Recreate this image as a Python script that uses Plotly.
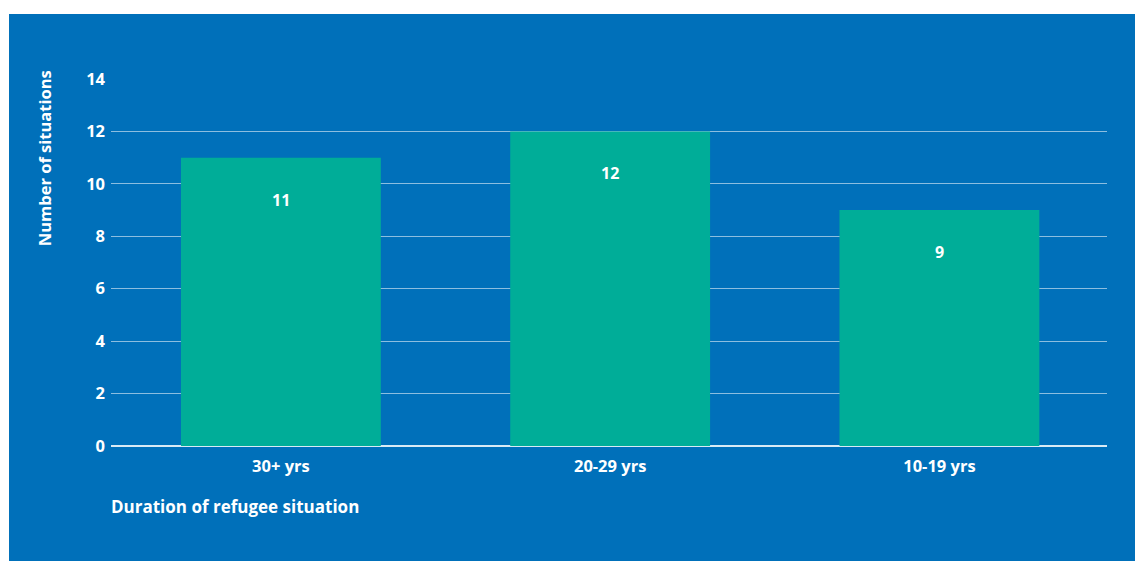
import plotly.graph_objects as go

categories = ["30+ yrs", "20-29 yrs", "10-19 yrs"]
values = [11, 12, 9]
y_ticks = [0, 2, 4, 6, 8, 10, 12, 14]

BLUE = "#0070BA"
GREEN = "#00AD98"
FONT = "Open Sans, Arial, sans-serif"

fig = go.Figure()
fig.add_trace(go.Bar(
    x=categories, y=values, width=0.607,
    marker=dict(color=GREEN, line=dict(width=0)),
    hoverinfo="skip",
))

for c, v in zip(categories, values):
    fig.add_annotation(x=c, y=v, text="%d" % v, showarrow=False,
                       yshift=-42, font=dict(family=FONT, size=16, color="white", weight="bold"))

fig.add_shape(type="rect", xref="paper", yref="paper",
              x0=-0.1024, x1=1.03, y0=-0.32, y1=1.1771,
              fillcolor=BLUE, line=dict(width=0), layer="below")

fig.add_annotation(xref="paper", yref="paper", x=-0.066, y=1.03,
                   xanchor="center", yanchor="top", textangle=-90,
                   text="Number of situations", showarrow=False,
                   font=dict(family=FONT, size=16.5, color="white", weight="bold"))
fig.add_annotation(xref="paper", yref="paper", x=-0.002, y=-0.165,
                   xanchor="left", yanchor="middle",
                   text="Duration of refugee situation", showarrow=False,
                   font=dict(family=FONT, size=17, color="white", weight="bold"))

fig.update_layout(
    width=1135, height=561,
    margin=dict(l=111, r=28, t=79, b=115),
    paper_bgcolor="white",
    plot_bgcolor="rgba(0,0,0,0)",
    showlegend=False,
    font=dict(family=FONT, color="white"),
    xaxis=dict(range=[-0.516, 2.509], showgrid=False, zeroline=False,
               showline=False, ticks="", ticklabelstandoff=8,
               tickfont=dict(family=FONT, size=16.5, color="white", weight="bold")),
    yaxis=dict(range=[0, 14], tickvals=y_ticks, showgrid=True,
               gridcolor="rgba(255,255,255,0.55)", gridwidth=1.3,
               zeroline=True, zerolinecolor="rgba(255,255,255,0.85)", zerolinewidth=2,
               showline=False, ticks="", ticklabelstandoff=5,
               tickfont=dict(family=FONT, size=16.5, color="white", weight="bold")),
)

fig.write_html("out.html")
